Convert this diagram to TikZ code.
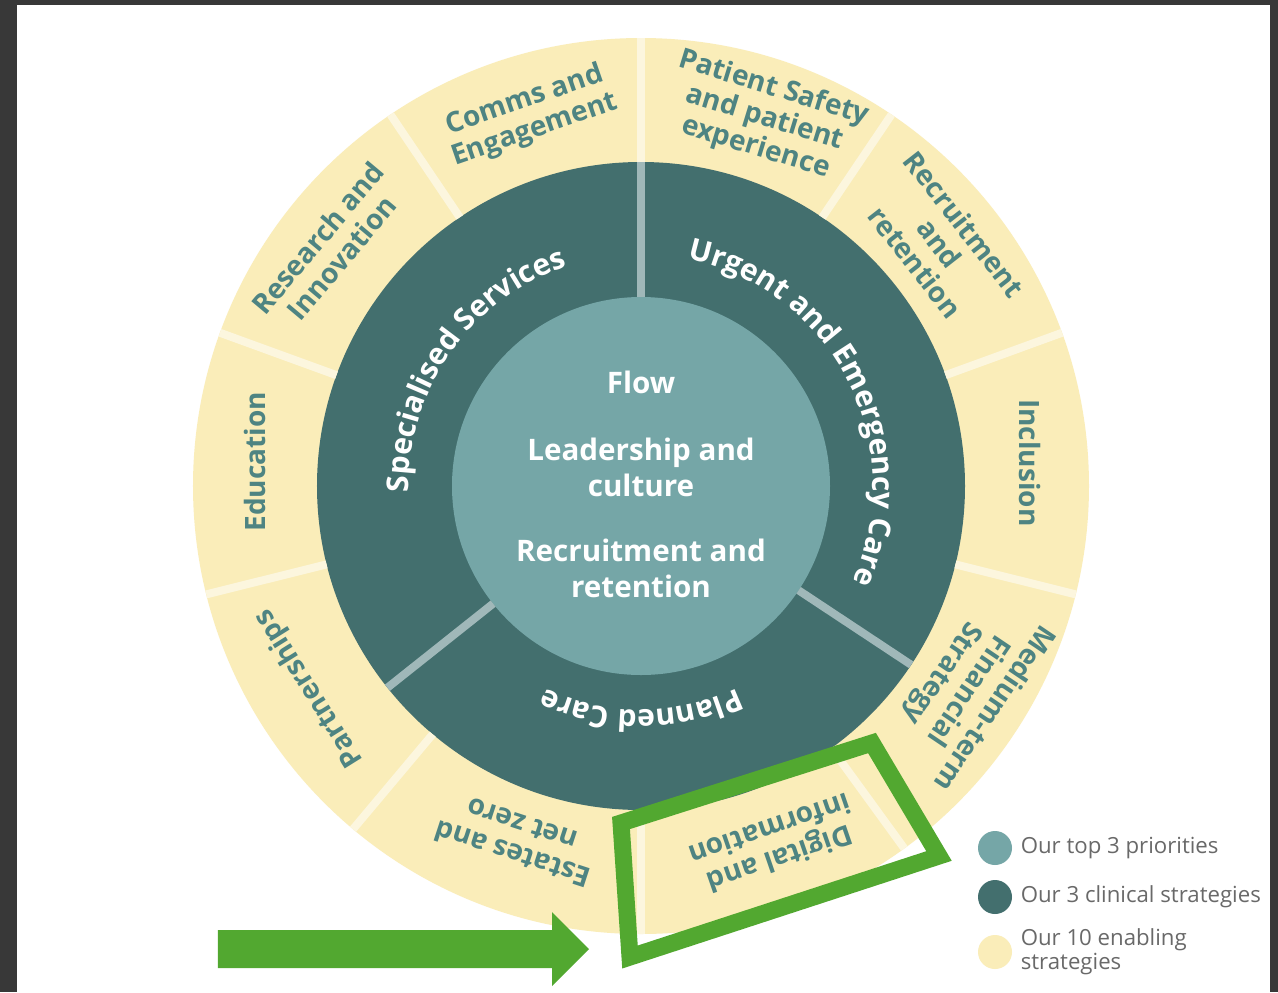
\documentclass[tikz,border=0pt]{standalone}
\usepackage{fontspec}
\setmainfont{Open Sans}
\usepackage{xcolor}
\usetikzlibrary{positioning}
\usetikzlibrary{decorations.text}
\definecolor{wheelyellow}{RGB}{250,237,185}
\definecolor{yellowline}{RGB}{252,246,222}
\definecolor{clinicalteal}{RGB}{67,111,110}
\definecolor{priorityteal}{RGB}{117,166,167}
\definecolor{clinicalline}{RGB}{160,184,185}
\definecolor{labelteal}{RGB}{78,132,130}
\definecolor{legendgray}{RGB}{105,105,105}
\definecolor{markgreen}{RGB}{82,168,48}
\definecolor{screenframe}{RGB}{56,56,56}
\newcommand{\clinicalfont}{\bfseries\fontsize{15}{18}\selectfont\color{white}}
\tikzset{
    enabling/.style={
           text=labelteal,
           font=\bfseries\fontsize{14}{15.5}\selectfont,
           align=center,
           inner sep=0pt,
           },
    priority/.style={
           text=white,
           font=\bfseries\fontsize{14.8}{18}\selectfont,
           align=center,
           inner sep=0pt,
           },
    legenddot/.style={
           circle,
           minimum size=17pt,
           inner sep=0pt,
           },
    legendtext/.style={
           text=legendgray,
           font=\mdseries\fontsize{11.1}{12}\selectfont,
           align=left,
           inner sep=0pt,
           },
    yellowsep/.style={yellowline, line width=4pt},
    tealsep/.style={clinicalline, line width=4pt},
}

\begin{document}
\begin{tikzpicture}[x=0.5pt,y=0.5pt]
	% screenshot frame and page
	\fill[screenframe] (-641,-506) rectangle (637,486);
	\fill[white] (-624,-506) rectangle (629,481);

	% the wheel
	\fill[wheelyellow] (0,0) circle (448);
	\fill[clinicalteal] (0,0) circle (324);
	\fill[priorityteal] (0,0) circle (189);
	\foreach \a in {20,56,90,124,160,194,230,270,306,346}
		\draw[yellowsep] (\a:324) -- (\a:448);
	\foreach \a in {90,218.5,326.5}
		\draw[tealsep] (\a:189) -- (\a:324);

	% top 3 priorities
	\node[priority] (flow) at (0,104) {Flow};
	\node[priority] (leader) at (0,19) {Leadership and\\culture};
	\node[priority] (recruit) at (0,-82) {Recruitment and\\retention};

	% clinical strategies
	\path[decorate, decoration={text along path, text align=center,
		text={|\clinicalfont|Specialised Services}}]
		(205:232) arc[start angle=205, end angle=85, radius=232];
	\path[decorate, decoration={text along path, text align=center,
		text={|\clinicalfont|Urgent and Emergency Care}}]
		(102:232) arc[start angle=102, end angle=-48, radius=232];
	\path[decorate, decoration={text along path, text align=center,
		text={|\clinicalfont|Planned Care}}]
		(-40:224) arc[start angle=-40, end angle=-140, radius=224];

	% enabling strategies
	\node[enabling, rotate=19] (comms) at (106.7:387) {Comms and\\Engagement};
	\node[enabling, rotate=-17] (safety) at (71.4:388) {Patient Safety\\and patient\\experience};
	\node[enabling, rotate=-52] (retain) at (39.1:385) {Recruitment\\and\\retention};
	\node[enabling, rotate=-90] (inclusion) at (3.4:390) {Inclusion};
	\node[enabling, rotate=-124] (finance) at (-32:385) {Medium-term\\Financial\\Strategy};
	\node[enabling, rotate=-161] (digital) at (-69.5:383) {Digital and\\information};
	\node[enabling, rotate=162] (estates) at (250.7:375) {Estates and\\net zero};
	\node[enabling, rotate=122] (partners) at (211.4:388) {Partnerships};
	\node[enabling, rotate=90] (education) at (176.4:387) {Education};
	\node[enabling, rotate=50] (research) at (142.6:392) {Research and\\Innovation};

	% legend
	\node[legenddot, fill=priorityteal] (dottop) at (354,-362) {};
	\node[legenddot, fill=clinicalteal] (dotclin) at (354,-411) {};
	\node[legenddot, fill=wheelyellow] (dotenab) at (354,-466) {};
	\node[legendtext, right=4pt of dottop] (keytop) {Our top 3 priorities};
	\node[legendtext, right=4pt of dotclin] (keyclin) {Our 3 clinical strategies};
	\node[legendtext, right=4pt of dotenab] (keyenab) {Our 10 enabling\\strategies};

	% highlight
	\draw[markgreen, line width=8.5pt, miter limit=10]
		(-20,-337) -- (231,-257) -- (298,-370) -- (-11,-471) -- cycle;
	\fill[markgreen] (-423,-444) -- (-89,-444) -- (-89,-426) -- (-52,-463)
		-- (-89,-500) -- (-89,-482) -- (-423,-482) -- cycle;
\end{tikzpicture}
\end{document}
